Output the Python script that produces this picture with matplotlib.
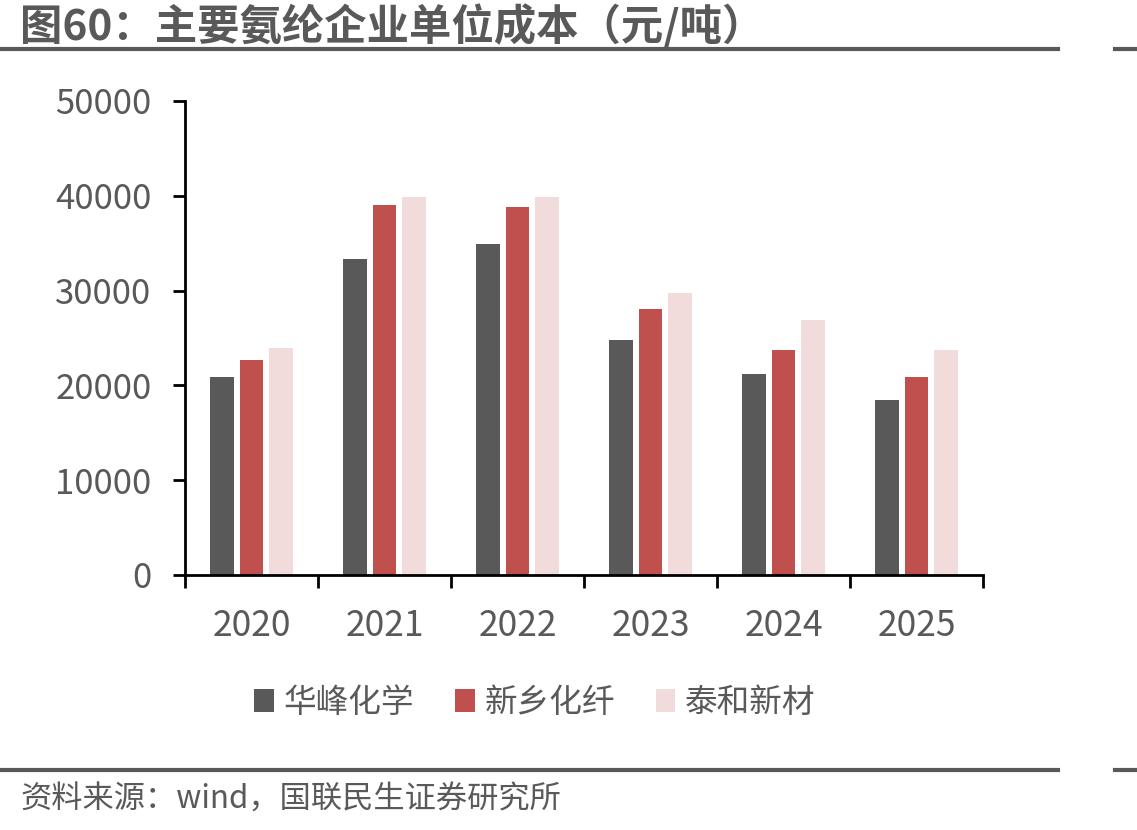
import matplotlib
matplotlib.use("Agg")
import matplotlib.pyplot as plt
from matplotlib.patches import Patch
from matplotlib.lines import Line2D
import numpy as np

plt.rcParams['font.family'] = ['Noto Sans CJK SC', 'DejaVu Sans']

years = ['2020', '2021', '2022', '2023', '2024', '2025']
series_names = ['华峰化学', '新乡化纤', '泰和新材']
huafeng = [20900, 33300, 34900, 24800, 21200, 18500]
xinxiang = [22700, 39000, 38800, 28100, 23700, 20900]
taihe = [23900, 39900, 39900, 29700, 26900, 23700]
colors = ['#595959', '#C0504D', '#F2DCDB']
yticks = [0, 10000, 20000, 30000, 40000, 50000]

W, H = 1137, 830
fig = plt.figure(figsize=(W / 100, H / 100), dpi=100)
ax = fig.add_axes([185 / W, 1 - 575 / H, (983 - 185) / W, (575 - 101) / H])

x = np.arange(len(years))
bw = 0.177
off = 0.222
for i, (vals, c) in enumerate(zip([huafeng, xinxiang, taihe], colors)):
    ax.bar(x + (i - 1) * off, vals, width=bw, color=c, label=series_names[i], zorder=2)

ax.set_xlim(-0.5, len(years) - 0.5)
ax.set_ylim(0, 50000)
ax.set_yticks(yticks)
ax.set_yticklabels([str(v) for v in yticks])
ax.set_xticks(x)
ax.set_xticklabels(years)
ax.set_xticks(np.arange(-0.5, len(years)), minor=True)
ax.tick_params(axis='x', which='major', length=0, pad=24, labelsize=25.5, labelcolor='#595959')
ax.tick_params(axis='x', which='minor', length=9, width=2, color='black', direction='out')
ax.tick_params(axis='y', which='major', length=9, width=2, color='black', direction='out',
               pad=15, labelsize=25, labelcolor='#595959')
for s in ['top', 'right']:
    ax.spines[s].set_visible(False)
for s in ['left', 'bottom']:
    ax.spines[s].set_linewidth(2)
    ax.spines[s].set_color('black')

# Title
fig.text(20 / W, 1 - 27 / H, '图60：主要氨纶企业单位成本（元/吨）', fontsize=30.5, fontweight='bold',
         color='#595959', ha='left', va='center')
# Rules
for yy in [49, 770]:
    fig.add_artist(Line2D([0, 1058 / W], [1 - yy / H, 1 - yy / H], color='#595959', lw=3))
    fig.add_artist(Line2D([1115 / W, 1], [1 - yy / H, 1 - yy / H], color='#595959', lw=3))

# Source
fig.text(20 / W, 1 - 800 / H, '资料来源：wind，国联民生证券研究所', fontsize=22.5,
         color='#595959', ha='left', va='center')

# Legend
handles = [Patch(facecolor=c, edgecolor='none') for c in colors]
leg = fig.legend(handles, series_names, loc='center', bbox_to_anchor=(535 / W, 1 - 703 / H),
                 ncol=3, frameon=False, fontsize=23.5, handlelength=0.6, handleheight=0.7,
                 handletextpad=0.3, columnspacing=1.25, labelcolor='#595959')

fig.savefig('out.png', dpi=100)
